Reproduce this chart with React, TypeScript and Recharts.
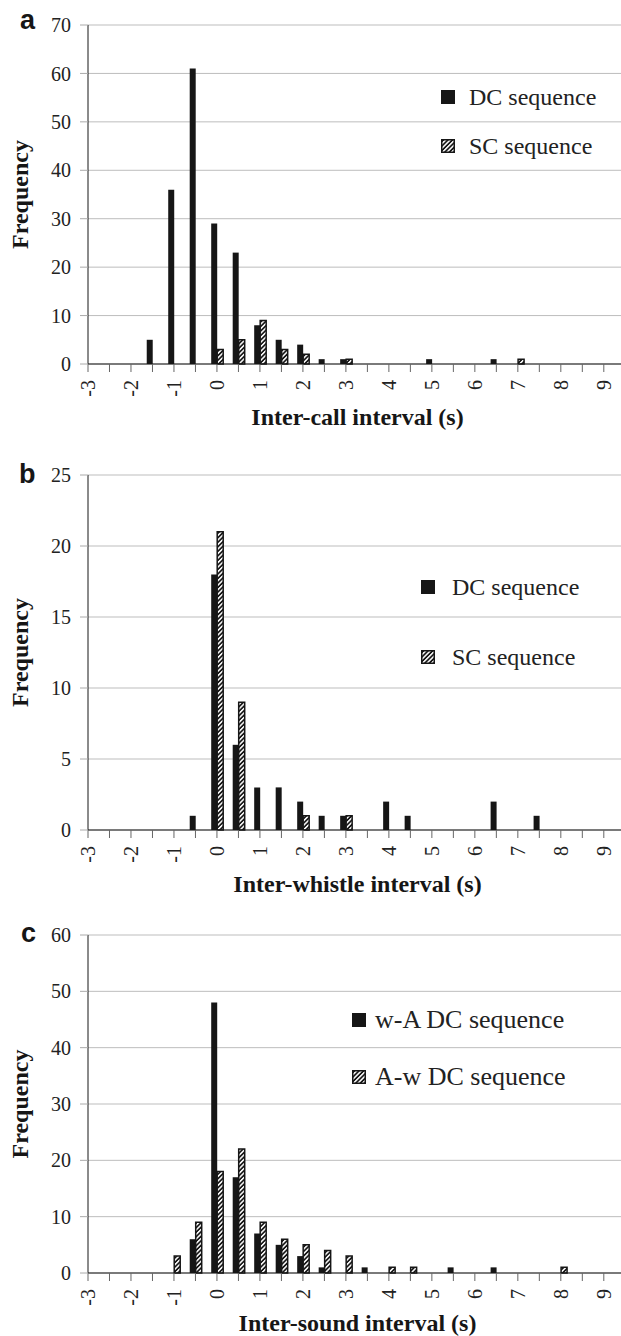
import React from "react";
import { BarChart, Bar, XAxis, YAxis, CartesianGrid, Legend } from "recharts";

// interval bins (s), one every 0.5 s
const BINS = [
  -3, -2.5, -2, -1.5, -1, -0.5, 0, 0.5, 1, 1.5, 2, 2.5, 3, 3.5, 4, 4.5, 5, 5.5,
  6, 6.5, 7, 7.5, 8, 8.5, 9,
];
const X_TICKS = BINS;

// panel a: inter-call interval
const DC_A = [0, 0, 0, 5, 36, 61, 29, 23, 8, 5, 4, 1, 1, 0, 0, 0, 1, 0, 0, 1, 0, 0, 0, 0, 0];
const SC_A = [0, 0, 0, 0, 0, 0, 3, 5, 9, 3, 2, 0, 1, 0, 0, 0, 0, 0, 0, 0, 1, 0, 0, 0, 0];
const Y_TICKS_A = [0, 10, 20, 30, 40, 50, 60, 70];

// panel b: inter-whistle interval
const DC_B = [0, 0, 0, 0, 0, 1, 18, 6, 3, 3, 2, 1, 1, 0, 2, 1, 0, 0, 0, 2, 0, 1, 0, 0, 0];
const SC_B = [0, 0, 0, 0, 0, 0, 21, 9, 0, 0, 1, 0, 1, 0, 0, 0, 0, 0, 0, 0, 0, 0, 0, 0, 0];
const Y_TICKS_B = [0, 5, 10, 15, 20, 25];

// panel c: inter-sound interval
const WA_C = [0, 0, 0, 0, 0, 6, 48, 17, 7, 5, 3, 1, 0, 1, 0, 0, 0, 1, 0, 1, 0, 0, 0, 0, 0];
const AW_C = [0, 0, 0, 0, 3, 9, 18, 22, 9, 6, 5, 4, 3, 0, 1, 1, 0, 0, 0, 0, 0, 0, 1, 0, 0];
const Y_TICKS_C = [0, 10, 20, 30, 40, 50, 60];

const SERIF = '"Liberation Serif", "Times New Roman", serif';
const SANS = '"Liberation Sans", Arial, sans-serif';
const INK = "#161616";
const TICK_FS = 20;

const toRows = (a: number[], b: number[]) =>
  BINS.map((x, i) => ({ x, s1: a[i], s2: b[i] }));

const XTick = (props: any) => {
  const { x, y, payload } = props;
  if (!Number.isInteger(payload.value)) return <g />;
  return (
    <text
      x={x}
      y={y}
      transform={`rotate(-90, ${x}, ${y})`}
      textAnchor="end"
      dy="0.35em"
      fontSize={TICK_FS}
      fontFamily={SERIF}
      fill="#222"
    >
      {payload.value}
    </text>
  );
};

type LegendCfg = { left: number; top: number; rowH: number; gap: number; fontSize: number };

const makeLegend = (cfg: LegendCfg, order: string[]) => (props: any) => {
  const items = [...(props.payload || [])].sort(
    (a: any, b: any) => order.indexOf(a.value) - order.indexOf(b.value)
  );
  return (
    <div style={{ fontFamily: SERIF, fontSize: cfg.fontSize, color: "#222", lineHeight: 1 }}>
      {items.map((it: any, i: number) => (
        <div key={i} style={{ display: "flex", alignItems: "center", height: cfg.rowH, whiteSpace: "nowrap" }}>
          <svg width={14} height={14} style={{ marginRight: cfg.gap, flex: "none" }}>
            <rect x={0.75} y={0.75} width={12.5} height={12.5} fill={it.color} stroke={INK} strokeWidth={1.5} />
          </svg>
          <span>{it.value}</span>
        </div>
      ))}
    </div>
  );
};

type PanelProps = {
  id: string;
  top: number;
  height: number;
  marginTop: number;
  xAxisH: number;
  s1: number[];
  s2: number[];
  names: [string, string];
  yTicks: number[];
  title: string;
  titleBase: number;
  legend: LegendCfg;
};

const Panel = (p: PanelProps) => {
  const hatch = `hatch-${p.id}`;
  const yMax = p.yTicks[p.yTicks.length - 1];
  return (
    <div style={{ position: "absolute", left: 0, top: p.top }}>
      <BarChart
        width={621}
        height={p.height}
        data={toRows(p.s1, p.s2)}
        margin={{ top: p.marginTop, right: 0, bottom: 0, left: 0 }}
        barGap={0}
        barSize={6}
      >
        <defs>
          <pattern id={hatch} width={3.2} height={3.2} patternUnits="userSpaceOnUse" patternTransform="rotate(45)">
            <rect width={3.2} height={3.2} fill={INK} />
            <rect width={1.5} height={3.2} fill="#fff" />
          </pattern>
        </defs>
        <CartesianGrid vertical={false} stroke="#bdbdbd" />
        <XAxis
          type="number"
          dataKey="x"
          domain={[-3, 9.4]}
          ticks={X_TICKS}
          interval={0}
          height={p.xAxisH}
          tickSize={8}
          tickMargin={8}
          tick={<XTick />}
          tickLine={{ stroke: "#666" }}
          axisLine={{ stroke: INK }}
          label={{
            content: ({ viewBox }: any) => (
              <text
                x={viewBox.x + viewBox.width / 2 + 3}
                y={viewBox.y + p.titleBase}
                textAnchor="middle"
                fontFamily={SERIF}
                fontWeight="bold"
                fontSize={24}
                fill={INK}
              >
                {p.title}
              </text>
            ),
          }}
        />
        <YAxis
          width={88}
          domain={[0, yMax]}
          ticks={p.yTicks}
          interval={0}
          tickSize={8}
          tickMargin={9}
          tick={{ fontSize: TICK_FS, fontFamily: SERIF, fill: "#222" }}
          tickLine={{ stroke: "#aaa" }}
          axisLine={{ stroke: INK }}
          label={{
            content: ({ viewBox }: any) => {
              const cy = viewBox.y + viewBox.height / 2;
              return (
                <text
                  x={20}
                  y={cy}
                  transform={`rotate(-90, 20, ${cy})`}
                  textAnchor="middle"
                  dy="0.35em"
                  fontFamily={SERIF}
                  fontWeight="bold"
                  fontSize={24}
                  fill={INK}
                >
                  Frequency
                </text>
              );
            },
          }}
        />
        <Legend
          layout="vertical"
          align="center"
          verticalAlign="middle"
          wrapperStyle={{ left: p.legend.left, top: p.legend.top, width: "auto" }}
          content={makeLegend(p.legend, p.names)}
        />
        <Bar dataKey="s1" name={p.names[0]} fill={INK} isAnimationActive={false} />
        <Bar
          dataKey="s2"
          name={p.names[1]}
          fill={`url(#${hatch})`}
          stroke={INK}
          strokeWidth={1.5}
          isAnimationActive={false}
        />
      </BarChart>
    </div>
  );
};

export default function App() {
  return (
    <div style={{ position: "absolute", left: 0, top: 0, width: 621, height: 1336, overflow: "hidden", background: "#fff" }}>
      <Panel
        id="a"
        top={0}
        height={440}
        marginTop={25}
        xAxisH={76}
        s1={DC_A}
        s2={SC_A}
        names={["DC sequence", "SC sequence"]}
        yTicks={Y_TICKS_A}
        title="Inter-call interval (s)"
        titleBase={61}
        legend={{ left: 441, top: 72.5, rowH: 49, gap: 14, fontSize: 24 }}
      />
      <Panel
        id="b"
        top={440}
        height={460}
        marginTop={35}
        xAxisH={70}
        s1={DC_B}
        s2={SC_B}
        names={["DC sequence", "SC sequence"]}
        yTicks={Y_TICKS_B}
        title="Inter-whistle interval (s)"
        titleBase={62}
        legend={{ left: 421, top: 112, rowH: 70, gap: 17, fontSize: 24 }}
      />
      <Panel
        id="c"
        top={900}
        height={436}
        marginTop={35}
        xAxisH={63}
        s1={WA_C}
        s2={AW_C}
        names={["w-A DC sequence", "A-w DC sequence"]}
        yTicks={Y_TICKS_C}
        title="Inter-sound interval (s)"
        titleBase={58}
        legend={{ left: 352, top: 91.5, rowH: 57, gap: 9, fontSize: 26 }}
      />
      <svg width={621} height={1336} style={{ position: "absolute", left: 0, top: 0, pointerEvents: "none" }}>
        <g fontFamily={SANS} fontWeight="bold" fontSize={27} fill={INK}>
          <text x={20} y={29}>a</text>
          <text x={19} y={483}>b</text>
          <text x={21} y={942}>c</text>
        </g>
      </svg>
    </div>
  );
}
